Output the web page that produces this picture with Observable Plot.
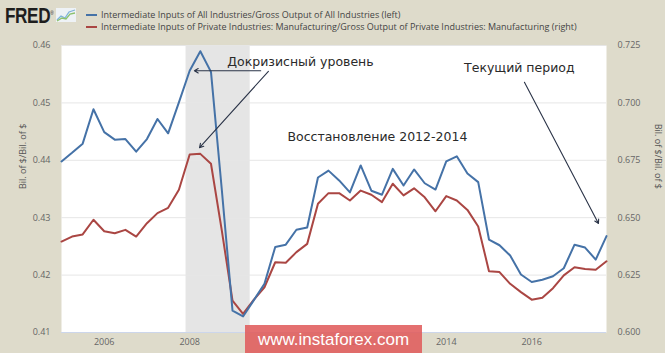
<!DOCTYPE html>
<html><head><meta charset="utf-8">
<script src="https://cdn.jsdelivr.net/npm/d3@7"></script>
<script src="https://cdn.jsdelivr.net/npm/@observablehq/plot@0.6"></script>
<style>
html,body{margin:0;padding:0;background:#dedbcb;}
#wrap{position:relative;width:665px;height:353px;overflow:hidden;background:#dedbcb;font-family:"Open Sans",sans-serif;}
#chart{position:absolute;left:0;top:0;}
#logo{position:absolute;left:5px;top:3px;font-family:"Liberation Sans",Arial,sans-serif;font-weight:900;font-size:22px;letter-spacing:-0.5px;color:#1e1e1e;transform:scaleX(0.78);transform-origin:0 0;white-space:nowrap;}
#logo sup{font-size:6px;font-weight:normal;letter-spacing:0;}
#icon{position:absolute;left:56px;top:8px;}
.leg{position:absolute;left:86px;font-size:9px;color:#444;white-space:nowrap;line-height:12px;}
.leg span.sw{display:inline-block;width:11px;height:2px;vertical-align:middle;margin-right:4px;position:relative;top:-1px;}
#wm{position:absolute;left:245px;top:325px;width:177px;height:34px;background:rgba(224,92,92,0.88);color:#fff;font-family:"Liberation Sans",Arial,sans-serif;font-size:17px;line-height:30px;text-align:center;}
</style></head><body>
<div id="wrap">
  <div id="chart"></div>
  <div id="logo">FRED<sup>®</sup></div>
  <svg id="icon" width="20" height="14" viewBox="0 0 20 14"><rect x="0" y="0" width="20" height="14" fill="#eef2f6"/><polyline points="1,12 5,8 9,10 13,4 19,2" fill="none" stroke="#7fb3d9" stroke-width="1.3"/><polyline points="1,13 6,10 10,11 14,6 19,5" fill="none" stroke="#8cc26e" stroke-width="1.3"/></svg>
  <div class="leg" style="top:9px"><span class="sw" style="background:#4572a7"></span><span id="leg1"></span></div>
  <div class="leg" style="top:21px"><span class="sw" style="background:#aa4643"></span><span id="leg2"></span></div>
  <div id="wm">www.instaforex.com</div>
</div>
<script>
// ---- data ----
const seriesNames = [
  "Intermediate Inputs of All Industries/Gross Output of All Industries (left)",
  "Intermediate Inputs of Private Industries: Manufacturing/Gross Output of Private Industries: Manufacturing (right)"
];
const firstQuarter = [2005, 1]; // quarterly data, 2005Q1 .. 2017Q4
const allIndustries = [
  0.4398, 0.4413, 0.4429, 0.4489, 0.4449, 0.4436, 0.4437, 0.4415,
  0.4437, 0.4472, 0.4447, 0.4501, 0.4556, 0.4590, 0.4554, 0.4350,
  0.4138, 0.4128, 0.4156, 0.4185, 0.4249, 0.4253, 0.4279, 0.4283,
  0.4370, 0.4382, 0.4365, 0.4344, 0.4391, 0.4347, 0.4340, 0.4385,
  0.4356, 0.4384, 0.4360, 0.4349, 0.4398, 0.4407, 0.4377, 0.4362,
  0.4262, 0.4252, 0.4234, 0.4201, 0.4188, 0.4192, 0.4198, 0.4212,
  0.4253, 0.4248, 0.4227, 0.4268
];
const manufacturing = [
  0.6396, 0.6418, 0.6427, 0.6491, 0.6441, 0.6432, 0.6447, 0.6418,
  0.6476, 0.6520, 0.6543, 0.6622, 0.6775, 0.6778, 0.6735, 0.6446,
  0.6139, 0.6081, 0.6142, 0.6197, 0.6306, 0.6304, 0.6350, 0.6386,
  0.6561, 0.6607, 0.6607, 0.6575, 0.6618, 0.6600, 0.6568, 0.6648,
  0.6597, 0.6628, 0.6589, 0.6528, 0.6594, 0.6575, 0.6534, 0.6462,
  0.6267, 0.6263, 0.6212, 0.6176, 0.6143, 0.6151, 0.6193, 0.6249,
  0.6284, 0.6277, 0.6273, 0.6310
];
const leftTicks = [0.41, 0.42, 0.43, 0.44, 0.45, 0.46];
const rightTicks = [0.600, 0.625, 0.650, 0.675, 0.700, 0.725];
const yearTicks = [2006, 2008, 2010, 2012, 2014, 2016];
const recession = {start: "2007-12-01", end: "2009-06-01"};
const axisTitle = "Bil. of $/Bil. of $";
// annotations: [decimal year, left-axis value]
const labels = [
  {text: "Докризисный уровень", t: 2010.59, v: 0.4572},
  {text: "Восстановление 2012-2014", t: 2012.39, v: 0.4440},
  {text: "Текущий период", t: 2015.71, v: 0.4560}
];
const arrows = [
  {t1: 2009.66, v1: 0.4556, t2: 2008.11, v2: 0.4556},
  {t1: 2009.84, v1: 0.4555, t2: 2008.23, v2: 0.4422},
  {t1: 2015.83, v1: 0.4536, t2: 2017.56, v2: 0.4290}
];

// ---- build ----
document.getElementById("leg1").textContent = seriesNames[0];
document.getElementById("leg2").textContent = seriesNames[1];

const qDate = i => {
  const m = (firstQuarter[1] - 1) * 3 + i * 3;
  return new Date(Date.UTC(firstQuarter[0] + Math.floor(m / 12), m % 12, 1));
};
const decDate = t => {
  const y = Math.floor(t);
  const s = Date.UTC(y, 0, 1), e = Date.UTC(y + 1, 0, 1);
  return new Date(s + (t - y) * (e - s));
};
const L = leftTicks, R = rightTicks;
const toLeft = v => L[0] + (v - R[0]) * (L[L.length-1] - L[0]) / (R[R.length-1] - R[0]);
const toRight = v => R[0] + (v - L[0]) * (R[R.length-1] - R[0]) / (L[L.length-1] - L[0]);

const blue = allIndustries.map((v, i) => ({date: qDate(i), value: v}));
const red = manufacturing.map((v, i) => ({date: qDate(i), value: toLeft(v)}));
const xDomain = [qDate(0), qDate(allIndustries.length - 1)];

const chart = Plot.plot({
  width: 665,
  height: 353,
  marginTop: 45,
  marginBottom: 21,
  marginLeft: 61,
  marginRight: 59,
  style: {background: "transparent", fontFamily: "'Open Sans', sans-serif", fontSize: "9px", color: "#666", overflow: "visible"},
  x: {type: "utc", domain: xDomain},
  y: {domain: [L[0], L[L.length-1]]},
  marks: [
    Plot.frame({fill: "white", stroke: "none"}),
    Plot.rect([recession], {x1: d => new Date(d.start), x2: d => new Date(d.end), fill: "#e5e5e5"}),
    Plot.gridY(L, {stroke: "#e6e6e6", strokeOpacity: 1}),
    Plot.ruleY([L[0]], {stroke: "#ccd6eb", strokeWidth: 1}),
    Plot.axisX(yearTicks.map(y => new Date(Date.UTC(y, 0, 1))), {tickSize: 0, tickPadding: 6, tickFormat: d => String(d.getUTCFullYear()), label: null, fill: "#666"}),
    Plot.axisY(L, {anchor: "left", tickSize: 0, tickPadding: 11, tickFormat: d => d.toFixed(2), label: null, fill: "#666"}),
    Plot.axisY(L, {anchor: "right", tickSize: 0, tickPadding: 11, tickFormat: d => toRight(d).toFixed(3), label: null, fill: "#666"}),
    Plot.text([axisTitle], {frameAnchor: "left", rotate: -90, dx: -38, fill: "#555", fontSize: 9}),
    Plot.text([axisTitle], {frameAnchor: "right", rotate: 90, dx: 51, fill: "#555", fontSize: 9}),
    Plot.line(red, {x: "date", y: "value", stroke: "#aa4643", strokeWidth: 2}),
    Plot.line(blue, {x: "date", y: "value", stroke: "#4572a7", strokeWidth: 2}),
    Plot.arrow(arrows, {x1: d => decDate(d.t1), y1: "v1", x2: d => decDate(d.t2), y2: "v2", stroke: "#2b3448", strokeWidth: 1.1, headLength: 6, bend: 0}),
    Plot.text(labels, {x: d => decDate(d.t), y: "v", text: "text", fill: "#2a2a2a", fontSize: 12.5, fontFamily: "'DejaVu Sans', sans-serif", style: "text-shadow:1px 1px 1px rgba(0,0,0,0.25)"})
  ]
});
document.getElementById("chart").appendChild(chart);
</script>
</body></html>
